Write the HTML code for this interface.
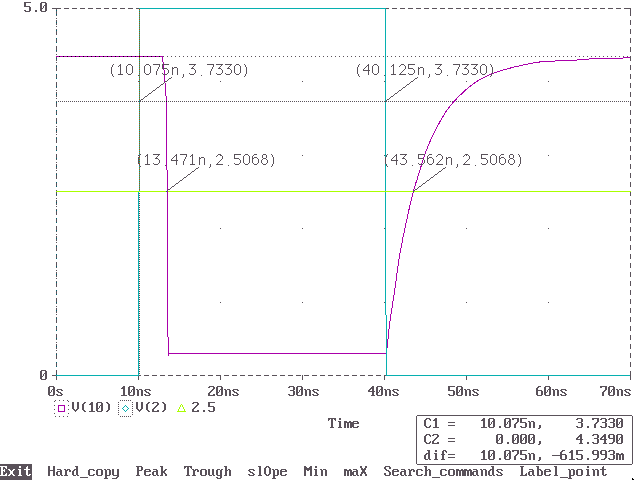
<!DOCTYPE html>
<html lang="en"><head><meta charset="utf-8"><title>Probe - V(10), V(2), 2.5 vs Time</title>
<style>html,body{margin:0;padding:0;background:#fff;width:640px;height:480px;overflow:hidden;font-family:"Liberation Mono",monospace}svg{display:block;position:absolute;left:0;top:0}</style>
</head><body>
<svg width="640" height="480" viewBox="0 0 640 480">
<defs>
<path id="c40" d="M4 2h2v1h-2zM3 3h2v1h-2zM2 4h2v1h-2zM2 5h2v1h-2zM2 6h2v1h-2zM2 7h2v1h-2zM2 8h2v1h-2zM2 9h2v1h-2zM3 10h2v1h-2zM4 11h2v1h-2z"/>
<path id="c41" d="M2 2h2v1h-2zM3 3h2v1h-2zM4 4h2v1h-2zM4 5h2v1h-2zM4 6h2v1h-2zM4 7h2v1h-2zM4 8h2v1h-2zM4 9h2v1h-2zM3 10h2v1h-2zM2 11h2v1h-2z"/>
<path id="c44" d="M3 9h2v1h-2zM3 10h2v1h-2zM3 11h2v1h-2zM2 12h2v1h-2z"/>
<path id="c45" d="M0 7h8v1h-8z"/>
<path id="c46" d="M3 10h2v1h-2zM3 11h2v1h-2z"/>
<path id="c48" d="M1 2h5v1h-5zM0 3h2v1h-2zM5 3h2v1h-2zM0 4h2v1h-2zM5 4h2v1h-2zM0 5h2v1h-2zM4 5h3v1h-3zM0 6h2v1h-2zM3 6h1v1h-1zM5 6h2v1h-2zM0 7h2v1h-2zM3 7h1v1h-1zM5 7h2v1h-2zM0 8h3v1h-3zM5 8h2v1h-2zM0 9h2v1h-2zM5 9h2v1h-2zM0 10h2v1h-2zM5 10h2v1h-2zM1 11h5v1h-5z"/>
<path id="c49" d="M3 2h2v1h-2zM2 3h3v1h-3zM1 4h4v1h-4zM3 5h2v1h-2zM3 6h2v1h-2zM3 7h2v1h-2zM3 8h2v1h-2zM3 9h2v1h-2zM3 10h2v1h-2zM1 11h6v1h-6z"/>
<path id="c50" d="M1 2h5v1h-5zM0 3h2v1h-2zM5 3h2v1h-2zM5 4h2v1h-2zM4 5h2v1h-2zM3 6h2v1h-2zM2 7h2v1h-2zM1 8h2v1h-2zM0 9h2v1h-2zM0 10h2v1h-2zM5 10h2v1h-2zM0 11h7v1h-7z"/>
<path id="c51" d="M1 2h5v1h-5zM0 3h2v1h-2zM5 3h2v1h-2zM5 4h2v1h-2zM5 5h2v1h-2zM2 6h4v1h-4zM5 7h2v1h-2zM5 8h2v1h-2zM5 9h2v1h-2zM0 10h2v1h-2zM5 10h2v1h-2zM1 11h5v1h-5z"/>
<path id="c52" d="M4 2h2v1h-2zM3 3h3v1h-3zM2 4h4v1h-4zM1 5h2v1h-2zM4 5h2v1h-2zM0 6h2v1h-2zM4 6h2v1h-2zM0 7h7v1h-7zM4 8h2v1h-2zM4 9h2v1h-2zM4 10h2v1h-2zM3 11h4v1h-4z"/>
<path id="c53" d="M0 2h7v1h-7zM0 3h2v1h-2zM0 4h2v1h-2zM0 5h2v1h-2zM0 6h6v1h-6zM5 7h2v1h-2zM5 8h2v1h-2zM5 9h2v1h-2zM0 10h2v1h-2zM5 10h2v1h-2zM1 11h5v1h-5z"/>
<path id="c54" d="M2 2h3v1h-3zM1 3h2v1h-2zM0 4h2v1h-2zM0 5h2v1h-2zM0 6h6v1h-6zM0 7h2v1h-2zM5 7h2v1h-2zM0 8h2v1h-2zM5 8h2v1h-2zM0 9h2v1h-2zM5 9h2v1h-2zM0 10h2v1h-2zM5 10h2v1h-2zM1 11h5v1h-5z"/>
<path id="c55" d="M0 2h7v1h-7zM0 3h2v1h-2zM5 3h2v1h-2zM5 4h2v1h-2zM5 5h2v1h-2zM4 6h2v1h-2zM3 7h2v1h-2zM2 8h2v1h-2zM2 9h2v1h-2zM2 10h2v1h-2zM2 11h2v1h-2z"/>
<path id="c57" d="M1 2h5v1h-5zM0 3h2v1h-2zM5 3h2v1h-2zM0 4h2v1h-2zM5 4h2v1h-2zM0 5h2v1h-2zM5 5h2v1h-2zM1 6h6v1h-6zM5 7h2v1h-2zM5 8h2v1h-2zM5 9h2v1h-2zM4 10h2v1h-2zM1 11h4v1h-4z"/>
<path id="c61" d="M0 6h7v1h-7zM0 9h7v1h-7z"/>
<path id="c67" d="M2 2h4v1h-4zM1 3h2v1h-2zM5 3h2v1h-2zM0 4h2v1h-2zM6 4h1v1h-1zM0 5h2v1h-2zM0 6h2v1h-2zM0 7h2v1h-2zM0 8h2v1h-2zM0 9h2v1h-2zM6 9h1v1h-1zM1 10h2v1h-2zM5 10h2v1h-2zM2 11h4v1h-4z"/>
<path id="c69" d="M0 2h7v1h-7zM1 3h2v1h-2zM5 3h2v1h-2zM1 4h2v1h-2zM6 4h1v1h-1zM1 5h2v1h-2zM4 5h1v1h-1zM1 6h4v1h-4zM1 7h2v1h-2zM4 7h1v1h-1zM1 8h2v1h-2zM1 9h2v1h-2zM6 9h1v1h-1zM1 10h2v1h-2zM5 10h2v1h-2zM0 11h7v1h-7z"/>
<path id="c72" d="M0 2h2v1h-2zM5 2h2v1h-2zM0 3h2v1h-2zM5 3h2v1h-2zM0 4h2v1h-2zM5 4h2v1h-2zM0 5h2v1h-2zM5 5h2v1h-2zM0 6h7v1h-7zM0 7h2v1h-2zM5 7h2v1h-2zM0 8h2v1h-2zM5 8h2v1h-2zM0 9h2v1h-2zM5 9h2v1h-2zM0 10h2v1h-2zM5 10h2v1h-2zM0 11h2v1h-2zM5 11h2v1h-2z"/>
<path id="c76" d="M0 2h4v1h-4zM1 3h2v1h-2zM1 4h2v1h-2zM1 5h2v1h-2zM1 6h2v1h-2zM1 7h2v1h-2zM1 8h2v1h-2zM1 9h2v1h-2zM6 9h1v1h-1zM1 10h2v1h-2zM5 10h2v1h-2zM0 11h7v1h-7z"/>
<path id="c77" d="M0 2h2v1h-2zM6 2h2v1h-2zM0 3h3v1h-3zM5 3h3v1h-3zM0 4h8v1h-8zM0 5h8v1h-8zM0 6h2v1h-2zM3 6h2v1h-2zM6 6h2v1h-2zM0 7h2v1h-2zM6 7h2v1h-2zM0 8h2v1h-2zM6 8h2v1h-2zM0 9h2v1h-2zM6 9h2v1h-2zM0 10h2v1h-2zM6 10h2v1h-2zM0 11h2v1h-2zM6 11h2v1h-2z"/>
<path id="c79" d="M2 2h3v1h-3zM1 3h2v1h-2zM4 3h2v1h-2zM0 4h2v1h-2zM5 4h2v1h-2zM0 5h2v1h-2zM5 5h2v1h-2zM0 6h2v1h-2zM5 6h2v1h-2zM0 7h2v1h-2zM5 7h2v1h-2zM0 8h2v1h-2zM5 8h2v1h-2zM0 9h2v1h-2zM5 9h2v1h-2zM1 10h2v1h-2zM4 10h2v1h-2zM2 11h3v1h-3z"/>
<path id="c80" d="M0 2h6v1h-6zM1 3h2v1h-2zM5 3h2v1h-2zM1 4h2v1h-2zM5 4h2v1h-2zM1 5h2v1h-2zM5 5h2v1h-2zM1 6h5v1h-5zM1 7h2v1h-2zM1 8h2v1h-2zM1 9h2v1h-2zM1 10h2v1h-2zM0 11h4v1h-4z"/>
<path id="c83" d="M1 2h5v1h-5zM0 3h2v1h-2zM5 3h2v1h-2zM0 4h2v1h-2zM5 4h2v1h-2zM1 5h2v1h-2zM2 6h3v1h-3zM4 7h2v1h-2zM5 8h2v1h-2zM0 9h2v1h-2zM5 9h2v1h-2zM0 10h2v1h-2zM5 10h2v1h-2zM1 11h5v1h-5z"/>
<path id="c84" d="M0 2h8v1h-8zM0 3h2v1h-2zM3 3h2v1h-2zM6 3h2v1h-2zM0 4h1v1h-1zM3 4h2v1h-2zM7 4h1v1h-1zM3 5h2v1h-2zM3 6h2v1h-2zM3 7h2v1h-2zM3 8h2v1h-2zM3 9h2v1h-2zM3 10h2v1h-2zM2 11h4v1h-4z"/>
<path id="c86" d="M0 2h2v1h-2zM5 2h2v1h-2zM0 3h2v1h-2zM5 3h2v1h-2zM0 4h2v1h-2zM5 4h2v1h-2zM0 5h2v1h-2zM5 5h2v1h-2zM0 6h2v1h-2zM5 6h2v1h-2zM0 7h2v1h-2zM5 7h2v1h-2zM0 8h2v1h-2zM5 8h2v1h-2zM1 9h2v1h-2zM4 9h2v1h-2zM2 10h3v1h-3zM3 11h1v1h-1z"/>
<path id="c88" d="M0 2h2v1h-2zM5 2h2v1h-2zM0 3h2v1h-2zM5 3h2v1h-2zM1 4h2v1h-2zM4 4h2v1h-2zM1 5h5v1h-5zM2 6h3v1h-3zM2 7h3v1h-3zM1 8h5v1h-5zM1 9h2v1h-2zM4 9h2v1h-2zM0 10h2v1h-2zM5 10h2v1h-2zM0 11h2v1h-2zM5 11h2v1h-2z"/>
<path id="c95" d="M0 13h8v1h-8z"/>
<path id="c97" d="M1 5h4v1h-4zM4 6h2v1h-2zM1 7h5v1h-5zM0 8h2v1h-2zM4 8h2v1h-2zM0 9h2v1h-2zM4 9h2v1h-2zM0 10h2v1h-2zM4 10h2v1h-2zM1 11h3v1h-3zM5 11h2v1h-2z"/>
<path id="c98" d="M0 2h3v1h-3zM1 3h2v1h-2zM1 4h2v1h-2zM1 5h4v1h-4zM1 6h2v1h-2zM4 6h2v1h-2zM1 7h2v1h-2zM5 7h2v1h-2zM1 8h2v1h-2zM5 8h2v1h-2zM1 9h2v1h-2zM5 9h2v1h-2zM1 10h2v1h-2zM5 10h2v1h-2zM1 11h5v1h-5z"/>
<path id="c99" d="M1 5h5v1h-5zM0 6h2v1h-2zM5 6h2v1h-2zM0 7h2v1h-2zM0 8h2v1h-2zM0 9h2v1h-2zM0 10h2v1h-2zM5 10h2v1h-2zM1 11h5v1h-5z"/>
<path id="c100" d="M3 2h3v1h-3zM4 3h2v1h-2zM4 4h2v1h-2zM2 5h4v1h-4zM1 6h2v1h-2zM4 6h2v1h-2zM0 7h2v1h-2zM4 7h2v1h-2zM0 8h2v1h-2zM4 8h2v1h-2zM0 9h2v1h-2zM4 9h2v1h-2zM0 10h2v1h-2zM4 10h2v1h-2zM1 11h3v1h-3zM5 11h2v1h-2z"/>
<path id="c101" d="M1 5h5v1h-5zM0 6h2v1h-2zM5 6h2v1h-2zM0 7h7v1h-7zM0 8h2v1h-2zM0 9h2v1h-2zM0 10h2v1h-2zM5 10h2v1h-2zM1 11h5v1h-5z"/>
<path id="c102" d="M3 2h3v1h-3zM2 3h2v1h-2zM5 3h2v1h-2zM2 4h2v1h-2zM6 4h1v1h-1zM2 5h2v1h-2zM1 6h4v1h-4zM2 7h2v1h-2zM2 8h2v1h-2zM2 9h2v1h-2zM2 10h2v1h-2zM1 11h4v1h-4z"/>
<path id="c103" d="M1 5h3v1h-3zM5 5h2v1h-2zM0 6h2v1h-2zM4 6h2v1h-2zM0 7h2v1h-2zM4 7h2v1h-2zM0 8h2v1h-2zM4 8h2v1h-2zM0 9h2v1h-2zM4 9h2v1h-2zM0 10h2v1h-2zM4 10h2v1h-2zM1 11h5v1h-5zM4 12h2v1h-2zM0 13h2v1h-2zM4 13h2v1h-2zM1 14h4v1h-4z"/>
<path id="c104" d="M0 2h3v1h-3zM1 3h2v1h-2zM1 4h2v1h-2zM1 5h2v1h-2zM4 5h2v1h-2zM1 6h3v1h-3zM5 6h2v1h-2zM1 7h2v1h-2zM5 7h2v1h-2zM1 8h2v1h-2zM5 8h2v1h-2zM1 9h2v1h-2zM5 9h2v1h-2zM1 10h2v1h-2zM5 10h2v1h-2zM0 11h3v1h-3zM5 11h2v1h-2z"/>
<path id="c105" d="M3 2h2v1h-2zM3 3h2v1h-2zM2 5h3v1h-3zM3 6h2v1h-2zM3 7h2v1h-2zM3 8h2v1h-2zM3 9h2v1h-2zM3 10h2v1h-2zM2 11h4v1h-4z"/>
<path id="c107" d="M0 2h3v1h-3zM1 3h2v1h-2zM1 4h2v1h-2zM1 5h2v1h-2zM5 5h2v1h-2zM1 6h2v1h-2zM4 6h2v1h-2zM1 7h4v1h-4zM1 8h4v1h-4zM1 9h2v1h-2zM4 9h2v1h-2zM1 10h2v1h-2zM5 10h2v1h-2zM0 11h3v1h-3zM5 11h2v1h-2z"/>
<path id="c108" d="M2 2h3v1h-3zM3 3h2v1h-2zM3 4h2v1h-2zM3 5h2v1h-2zM3 6h2v1h-2zM3 7h2v1h-2zM3 8h2v1h-2zM3 9h2v1h-2zM3 10h2v1h-2zM2 11h4v1h-4z"/>
<path id="c109" d="M0 5h3v1h-3zM5 5h2v1h-2zM0 6h8v1h-8zM0 7h2v1h-2zM3 7h2v1h-2zM6 7h2v1h-2zM0 8h2v1h-2zM3 8h2v1h-2zM6 8h2v1h-2zM0 9h2v1h-2zM3 9h2v1h-2zM6 9h2v1h-2zM0 10h2v1h-2zM3 10h2v1h-2zM6 10h2v1h-2zM0 11h2v1h-2zM3 11h2v1h-2zM6 11h2v1h-2z"/>
<path id="c110" d="M0 5h2v1h-2zM3 5h3v1h-3zM1 6h2v1h-2zM5 6h2v1h-2zM1 7h2v1h-2zM5 7h2v1h-2zM1 8h2v1h-2zM5 8h2v1h-2zM1 9h2v1h-2zM5 9h2v1h-2zM1 10h2v1h-2zM5 10h2v1h-2zM1 11h2v1h-2zM5 11h2v1h-2z"/>
<path id="c111" d="M1 5h5v1h-5zM0 6h2v1h-2zM5 6h2v1h-2zM0 7h2v1h-2zM5 7h2v1h-2zM0 8h2v1h-2zM5 8h2v1h-2zM0 9h2v1h-2zM5 9h2v1h-2zM0 10h2v1h-2zM5 10h2v1h-2zM1 11h5v1h-5z"/>
<path id="c112" d="M0 5h2v1h-2zM3 5h3v1h-3zM1 6h2v1h-2zM5 6h2v1h-2zM1 7h2v1h-2zM5 7h2v1h-2zM1 8h2v1h-2zM5 8h2v1h-2zM1 9h2v1h-2zM5 9h2v1h-2zM1 10h2v1h-2zM5 10h2v1h-2zM1 11h5v1h-5zM1 12h2v1h-2zM1 13h2v1h-2zM0 14h4v1h-4z"/>
<path id="c114" d="M0 5h2v1h-2zM3 5h3v1h-3zM1 6h3v1h-3zM5 6h2v1h-2zM1 7h2v1h-2zM5 7h2v1h-2zM1 8h2v1h-2zM1 9h2v1h-2zM1 10h2v1h-2zM0 11h4v1h-4z"/>
<path id="c115" d="M1 5h5v1h-5zM0 6h2v1h-2zM5 6h2v1h-2zM1 7h2v1h-2zM2 8h3v1h-3zM4 9h2v1h-2zM0 10h2v1h-2zM5 10h2v1h-2zM1 11h5v1h-5z"/>
<path id="c116" d="M3 2h1v1h-1zM2 3h2v1h-2zM2 4h2v1h-2zM0 5h6v1h-6zM2 6h2v1h-2zM2 7h2v1h-2zM2 8h2v1h-2zM2 9h2v1h-2zM2 10h2v1h-2zM5 10h2v1h-2zM3 11h3v1h-3z"/>
<path id="c117" d="M0 5h2v1h-2zM4 5h2v1h-2zM0 6h2v1h-2zM4 6h2v1h-2zM0 7h2v1h-2zM4 7h2v1h-2zM0 8h2v1h-2zM4 8h2v1h-2zM0 9h2v1h-2zM4 9h2v1h-2zM0 10h2v1h-2zM4 10h2v1h-2zM1 11h3v1h-3zM5 11h2v1h-2z"/>
<path id="c120" d="M0 5h2v1h-2zM5 5h2v1h-2zM1 6h2v1h-2zM4 6h2v1h-2zM2 7h3v1h-3zM2 8h3v1h-3zM2 9h3v1h-3zM1 10h2v1h-2zM4 10h2v1h-2zM0 11h2v1h-2zM5 11h2v1h-2z"/>
<path id="c121" d="M0 5h2v1h-2zM5 5h2v1h-2zM0 6h2v1h-2zM5 6h2v1h-2zM0 7h2v1h-2zM5 7h2v1h-2zM0 8h2v1h-2zM5 8h2v1h-2zM0 9h2v1h-2zM5 9h2v1h-2zM0 10h2v1h-2zM5 10h2v1h-2zM1 11h6v1h-6zM5 12h2v1h-2zM4 13h2v1h-2zM0 14h5v1h-5z"/>
</defs>
<rect width="640" height="480" fill="#fff"/>
<g shape-rendering="crispEdges">
<rect x="52" y="8" width="4" height="1" fill="#5A525A"/>
<rect x="56" y="8" width="5" height="1" fill="#5A525A"/>
<rect x="64" y="8" width="5" height="1" fill="#5A525A"/>
<rect x="72" y="8" width="5" height="1" fill="#5A525A"/>
<rect x="80" y="8" width="5" height="1" fill="#5A525A"/>
<rect x="88" y="8" width="5" height="1" fill="#5A525A"/>
<rect x="96" y="8" width="5" height="1" fill="#5A525A"/>
<rect x="104" y="8" width="5" height="1" fill="#5A525A"/>
<rect x="112" y="8" width="5" height="1" fill="#5A525A"/>
<rect x="120" y="8" width="5" height="1" fill="#5A525A"/>
<rect x="128" y="8" width="5" height="1" fill="#5A525A"/>
<rect x="136" y="8" width="5" height="1" fill="#5A525A"/>
<rect x="144" y="8" width="5" height="1" fill="#5A525A"/>
<rect x="152" y="8" width="5" height="1" fill="#5A525A"/>
<rect x="160" y="8" width="5" height="1" fill="#5A525A"/>
<rect x="168" y="8" width="5" height="1" fill="#5A525A"/>
<rect x="176" y="8" width="5" height="1" fill="#5A525A"/>
<rect x="184" y="8" width="5" height="1" fill="#5A525A"/>
<rect x="192" y="8" width="5" height="1" fill="#5A525A"/>
<rect x="200" y="8" width="5" height="1" fill="#5A525A"/>
<rect x="208" y="8" width="5" height="1" fill="#5A525A"/>
<rect x="216" y="8" width="5" height="1" fill="#5A525A"/>
<rect x="224" y="8" width="5" height="1" fill="#5A525A"/>
<rect x="232" y="8" width="5" height="1" fill="#5A525A"/>
<rect x="240" y="8" width="5" height="1" fill="#5A525A"/>
<rect x="248" y="8" width="5" height="1" fill="#5A525A"/>
<rect x="256" y="8" width="5" height="1" fill="#5A525A"/>
<rect x="264" y="8" width="5" height="1" fill="#5A525A"/>
<rect x="272" y="8" width="5" height="1" fill="#5A525A"/>
<rect x="280" y="8" width="5" height="1" fill="#5A525A"/>
<rect x="288" y="8" width="5" height="1" fill="#5A525A"/>
<rect x="296" y="8" width="5" height="1" fill="#5A525A"/>
<rect x="304" y="8" width="5" height="1" fill="#5A525A"/>
<rect x="312" y="8" width="5" height="1" fill="#5A525A"/>
<rect x="320" y="8" width="5" height="1" fill="#5A525A"/>
<rect x="328" y="8" width="5" height="1" fill="#5A525A"/>
<rect x="336" y="8" width="5" height="1" fill="#5A525A"/>
<rect x="344" y="8" width="5" height="1" fill="#5A525A"/>
<rect x="352" y="8" width="5" height="1" fill="#5A525A"/>
<rect x="360" y="8" width="5" height="1" fill="#5A525A"/>
<rect x="368" y="8" width="5" height="1" fill="#5A525A"/>
<rect x="376" y="8" width="5" height="1" fill="#5A525A"/>
<rect x="384" y="8" width="5" height="1" fill="#5A525A"/>
<rect x="392" y="8" width="5" height="1" fill="#5A525A"/>
<rect x="400" y="8" width="5" height="1" fill="#5A525A"/>
<rect x="408" y="8" width="5" height="1" fill="#5A525A"/>
<rect x="416" y="8" width="5" height="1" fill="#5A525A"/>
<rect x="424" y="8" width="5" height="1" fill="#5A525A"/>
<rect x="432" y="8" width="5" height="1" fill="#5A525A"/>
<rect x="440" y="8" width="5" height="1" fill="#5A525A"/>
<rect x="448" y="8" width="5" height="1" fill="#5A525A"/>
<rect x="456" y="8" width="5" height="1" fill="#5A525A"/>
<rect x="464" y="8" width="5" height="1" fill="#5A525A"/>
<rect x="472" y="8" width="5" height="1" fill="#5A525A"/>
<rect x="480" y="8" width="5" height="1" fill="#5A525A"/>
<rect x="488" y="8" width="5" height="1" fill="#5A525A"/>
<rect x="496" y="8" width="5" height="1" fill="#5A525A"/>
<rect x="504" y="8" width="5" height="1" fill="#5A525A"/>
<rect x="512" y="8" width="5" height="1" fill="#5A525A"/>
<rect x="520" y="8" width="5" height="1" fill="#5A525A"/>
<rect x="528" y="8" width="5" height="1" fill="#5A525A"/>
<rect x="536" y="8" width="5" height="1" fill="#5A525A"/>
<rect x="544" y="8" width="5" height="1" fill="#5A525A"/>
<rect x="552" y="8" width="5" height="1" fill="#5A525A"/>
<rect x="560" y="8" width="5" height="1" fill="#5A525A"/>
<rect x="568" y="8" width="5" height="1" fill="#5A525A"/>
<rect x="576" y="8" width="5" height="1" fill="#5A525A"/>
<rect x="584" y="8" width="5" height="1" fill="#5A525A"/>
<rect x="592" y="8" width="5" height="1" fill="#5A525A"/>
<rect x="600" y="8" width="5" height="1" fill="#5A525A"/>
<rect x="608" y="8" width="5" height="1" fill="#5A525A"/>
<rect x="616" y="8" width="5" height="1" fill="#5A525A"/>
<rect x="624" y="8" width="5" height="1" fill="#5A525A"/>
<rect x="52" y="375" width="4" height="1" fill="#5A525A"/>
<rect x="56" y="375" width="5" height="1" fill="#5A525A"/>
<rect x="64" y="375" width="5" height="1" fill="#5A525A"/>
<rect x="72" y="375" width="5" height="1" fill="#5A525A"/>
<rect x="80" y="375" width="5" height="1" fill="#5A525A"/>
<rect x="88" y="375" width="5" height="1" fill="#5A525A"/>
<rect x="96" y="375" width="5" height="1" fill="#5A525A"/>
<rect x="104" y="375" width="5" height="1" fill="#5A525A"/>
<rect x="112" y="375" width="5" height="1" fill="#5A525A"/>
<rect x="120" y="375" width="5" height="1" fill="#5A525A"/>
<rect x="128" y="375" width="5" height="1" fill="#5A525A"/>
<rect x="136" y="375" width="5" height="1" fill="#5A525A"/>
<rect x="144" y="375" width="5" height="1" fill="#5A525A"/>
<rect x="152" y="375" width="5" height="1" fill="#5A525A"/>
<rect x="160" y="375" width="5" height="1" fill="#5A525A"/>
<rect x="168" y="375" width="5" height="1" fill="#5A525A"/>
<rect x="176" y="375" width="5" height="1" fill="#5A525A"/>
<rect x="184" y="375" width="5" height="1" fill="#5A525A"/>
<rect x="192" y="375" width="5" height="1" fill="#5A525A"/>
<rect x="200" y="375" width="5" height="1" fill="#5A525A"/>
<rect x="208" y="375" width="5" height="1" fill="#5A525A"/>
<rect x="216" y="375" width="5" height="1" fill="#5A525A"/>
<rect x="224" y="375" width="5" height="1" fill="#5A525A"/>
<rect x="232" y="375" width="5" height="1" fill="#5A525A"/>
<rect x="240" y="375" width="5" height="1" fill="#5A525A"/>
<rect x="248" y="375" width="5" height="1" fill="#5A525A"/>
<rect x="256" y="375" width="5" height="1" fill="#5A525A"/>
<rect x="264" y="375" width="5" height="1" fill="#5A525A"/>
<rect x="272" y="375" width="5" height="1" fill="#5A525A"/>
<rect x="280" y="375" width="5" height="1" fill="#5A525A"/>
<rect x="288" y="375" width="5" height="1" fill="#5A525A"/>
<rect x="296" y="375" width="5" height="1" fill="#5A525A"/>
<rect x="304" y="375" width="5" height="1" fill="#5A525A"/>
<rect x="312" y="375" width="5" height="1" fill="#5A525A"/>
<rect x="320" y="375" width="5" height="1" fill="#5A525A"/>
<rect x="328" y="375" width="5" height="1" fill="#5A525A"/>
<rect x="336" y="375" width="5" height="1" fill="#5A525A"/>
<rect x="344" y="375" width="5" height="1" fill="#5A525A"/>
<rect x="352" y="375" width="5" height="1" fill="#5A525A"/>
<rect x="360" y="375" width="5" height="1" fill="#5A525A"/>
<rect x="368" y="375" width="5" height="1" fill="#5A525A"/>
<rect x="376" y="375" width="5" height="1" fill="#5A525A"/>
<rect x="384" y="375" width="5" height="1" fill="#5A525A"/>
<rect x="392" y="375" width="5" height="1" fill="#5A525A"/>
<rect x="400" y="375" width="5" height="1" fill="#5A525A"/>
<rect x="408" y="375" width="5" height="1" fill="#5A525A"/>
<rect x="416" y="375" width="5" height="1" fill="#5A525A"/>
<rect x="424" y="375" width="5" height="1" fill="#5A525A"/>
<rect x="432" y="375" width="5" height="1" fill="#5A525A"/>
<rect x="440" y="375" width="5" height="1" fill="#5A525A"/>
<rect x="448" y="375" width="5" height="1" fill="#5A525A"/>
<rect x="456" y="375" width="5" height="1" fill="#5A525A"/>
<rect x="464" y="375" width="5" height="1" fill="#5A525A"/>
<rect x="472" y="375" width="5" height="1" fill="#5A525A"/>
<rect x="480" y="375" width="5" height="1" fill="#5A525A"/>
<rect x="488" y="375" width="5" height="1" fill="#5A525A"/>
<rect x="496" y="375" width="5" height="1" fill="#5A525A"/>
<rect x="504" y="375" width="5" height="1" fill="#5A525A"/>
<rect x="512" y="375" width="5" height="1" fill="#5A525A"/>
<rect x="520" y="375" width="5" height="1" fill="#5A525A"/>
<rect x="528" y="375" width="5" height="1" fill="#5A525A"/>
<rect x="536" y="375" width="5" height="1" fill="#5A525A"/>
<rect x="544" y="375" width="5" height="1" fill="#5A525A"/>
<rect x="552" y="375" width="5" height="1" fill="#5A525A"/>
<rect x="560" y="375" width="5" height="1" fill="#5A525A"/>
<rect x="568" y="375" width="5" height="1" fill="#5A525A"/>
<rect x="576" y="375" width="5" height="1" fill="#5A525A"/>
<rect x="584" y="375" width="5" height="1" fill="#5A525A"/>
<rect x="592" y="375" width="5" height="1" fill="#5A525A"/>
<rect x="600" y="375" width="5" height="1" fill="#5A525A"/>
<rect x="608" y="375" width="5" height="1" fill="#5A525A"/>
<rect x="616" y="375" width="5" height="1" fill="#5A525A"/>
<rect x="624" y="375" width="5" height="1" fill="#5A525A"/>
<rect x="629" y="8" width="1" height="1" fill="#5A525A"/>
<rect x="56" y="375" width="1" height="5" fill="#5A525A"/>
<rect x="138" y="375" width="1" height="5" fill="#5A525A"/>
<rect x="220" y="375" width="1" height="5" fill="#5A525A"/>
<rect x="302" y="375" width="1" height="5" fill="#5A525A"/>
<rect x="384" y="375" width="1" height="5" fill="#5A525A"/>
<rect x="466" y="375" width="1" height="5" fill="#5A525A"/>
<rect x="548" y="375" width="1" height="5" fill="#5A525A"/>
<rect x="630" y="375" width="1" height="5" fill="#5A525A"/>
<rect x="630" y="8" width="1" height="8" fill="#5A525A"/>
<rect x="630" y="20" width="1" height="5" fill="#5A525A"/>
<rect x="630" y="29" width="1" height="5" fill="#5A525A"/>
<rect x="630" y="38" width="1" height="5" fill="#5A525A"/>
<rect x="630" y="47" width="1" height="5" fill="#5A525A"/>
<rect x="630" y="56" width="1" height="5" fill="#5A525A"/>
<rect x="630" y="65" width="1" height="5" fill="#5A525A"/>
<rect x="630" y="74" width="1" height="5" fill="#5A525A"/>
<rect x="630" y="83" width="1" height="5" fill="#5A525A"/>
<rect x="630" y="92" width="1" height="5" fill="#5A525A"/>
<rect x="630" y="101" width="1" height="5" fill="#5A525A"/>
<rect x="630" y="110" width="1" height="5" fill="#5A525A"/>
<rect x="630" y="119" width="1" height="5" fill="#5A525A"/>
<rect x="630" y="128" width="1" height="5" fill="#5A525A"/>
<rect x="630" y="137" width="1" height="5" fill="#5A525A"/>
<rect x="630" y="146" width="1" height="5" fill="#5A525A"/>
<rect x="630" y="155" width="1" height="5" fill="#5A525A"/>
<rect x="630" y="164" width="1" height="5" fill="#5A525A"/>
<rect x="630" y="173" width="1" height="5" fill="#5A525A"/>
<rect x="630" y="182" width="1" height="5" fill="#5A525A"/>
<rect x="630" y="191" width="1" height="5" fill="#5A525A"/>
<rect x="630" y="200" width="1" height="5" fill="#5A525A"/>
<rect x="630" y="209" width="1" height="5" fill="#5A525A"/>
<rect x="630" y="218" width="1" height="5" fill="#5A525A"/>
<rect x="630" y="227" width="1" height="5" fill="#5A525A"/>
<rect x="630" y="236" width="1" height="5" fill="#5A525A"/>
<rect x="630" y="245" width="1" height="5" fill="#5A525A"/>
<rect x="630" y="254" width="1" height="5" fill="#5A525A"/>
<rect x="630" y="263" width="1" height="5" fill="#5A525A"/>
<rect x="630" y="272" width="1" height="5" fill="#5A525A"/>
<rect x="630" y="281" width="1" height="5" fill="#5A525A"/>
<rect x="630" y="290" width="1" height="5" fill="#5A525A"/>
<rect x="630" y="299" width="1" height="5" fill="#5A525A"/>
<rect x="630" y="308" width="1" height="5" fill="#5A525A"/>
<rect x="630" y="317" width="1" height="5" fill="#5A525A"/>
<rect x="630" y="326" width="1" height="5" fill="#5A525A"/>
<rect x="630" y="335" width="1" height="5" fill="#5A525A"/>
<rect x="630" y="344" width="1" height="5" fill="#5A525A"/>
<rect x="630" y="353" width="1" height="5" fill="#5A525A"/>
<rect x="630" y="362" width="1" height="5" fill="#5A525A"/>
<rect x="630" y="371" width="1" height="5" fill="#5A525A"/>
<rect x="56" y="8" width="1" height="1" fill="#5A525A"/>
<rect x="56" y="9" width="1" height="1" fill="#5A525A"/>
<rect x="56" y="10" width="1" height="1" fill="#00626E"/>
<rect x="56" y="11" width="1" height="1" fill="#5A525A"/>
<rect x="56" y="12" width="1" height="1" fill="#5A525A"/>
<rect x="56" y="13" width="1" height="1" fill="#5A525A"/>
<rect x="56" y="14" width="1" height="1" fill="#00626E"/>
<rect x="56" y="15" width="1" height="1" fill="#5A525A"/>
<rect x="56" y="18" width="1" height="1" fill="#5A525A"/>
<rect x="56" y="20" width="1" height="1" fill="#5A525A"/>
<rect x="56" y="21" width="1" height="1" fill="#5A525A"/>
<rect x="56" y="22" width="1" height="1" fill="#00626E"/>
<rect x="56" y="23" width="1" height="1" fill="#5A525A"/>
<rect x="56" y="24" width="1" height="1" fill="#5A525A"/>
<rect x="56" y="26" width="1" height="1" fill="#5A525A"/>
<rect x="56" y="29" width="1" height="1" fill="#5A525A"/>
<rect x="56" y="30" width="1" height="1" fill="#00626E"/>
<rect x="56" y="31" width="1" height="1" fill="#5A525A"/>
<rect x="56" y="32" width="1" height="1" fill="#5A525A"/>
<rect x="56" y="33" width="1" height="1" fill="#5A525A"/>
<rect x="56" y="34" width="1" height="1" fill="#5A525A"/>
<rect x="56" y="38" width="1" height="1" fill="#00626E"/>
<rect x="56" y="39" width="1" height="1" fill="#5A525A"/>
<rect x="56" y="40" width="1" height="1" fill="#5A525A"/>
<rect x="56" y="41" width="1" height="1" fill="#5A525A"/>
<rect x="56" y="42" width="1" height="1" fill="#00626E"/>
<rect x="56" y="46" width="1" height="1" fill="#5A525A"/>
<rect x="56" y="47" width="1" height="1" fill="#5A525A"/>
<rect x="56" y="48" width="1" height="1" fill="#5A525A"/>
<rect x="56" y="49" width="1" height="1" fill="#5A525A"/>
<rect x="56" y="50" width="1" height="1" fill="#00626E"/>
<rect x="56" y="51" width="1" height="1" fill="#5A525A"/>
<rect x="56" y="54" width="1" height="1" fill="#5A525A"/>
<rect x="56" y="56" width="1" height="1" fill="#5A525A"/>
<rect x="56" y="57" width="1" height="1" fill="#5A525A"/>
<rect x="56" y="58" width="1" height="1" fill="#00626E"/>
<rect x="56" y="59" width="1" height="1" fill="#5A525A"/>
<rect x="56" y="60" width="1" height="1" fill="#5A525A"/>
<rect x="56" y="62" width="1" height="1" fill="#5A525A"/>
<rect x="56" y="65" width="1" height="1" fill="#5A525A"/>
<rect x="56" y="66" width="1" height="1" fill="#00626E"/>
<rect x="56" y="67" width="1" height="1" fill="#5A525A"/>
<rect x="56" y="68" width="1" height="1" fill="#5A525A"/>
<rect x="56" y="69" width="1" height="1" fill="#5A525A"/>
<rect x="56" y="70" width="1" height="1" fill="#5A525A"/>
<rect x="56" y="74" width="1" height="1" fill="#00626E"/>
<rect x="56" y="75" width="1" height="1" fill="#5A525A"/>
<rect x="56" y="76" width="1" height="1" fill="#5A525A"/>
<rect x="56" y="77" width="1" height="1" fill="#5A525A"/>
<rect x="56" y="78" width="1" height="1" fill="#00626E"/>
<rect x="56" y="82" width="1" height="1" fill="#5A525A"/>
<rect x="56" y="83" width="1" height="1" fill="#5A525A"/>
<rect x="56" y="84" width="1" height="1" fill="#5A525A"/>
<rect x="56" y="85" width="1" height="1" fill="#5A525A"/>
<rect x="56" y="86" width="1" height="1" fill="#00626E"/>
<rect x="56" y="87" width="1" height="1" fill="#5A525A"/>
<rect x="56" y="90" width="1" height="1" fill="#5A525A"/>
<rect x="56" y="92" width="1" height="1" fill="#5A525A"/>
<rect x="56" y="93" width="1" height="1" fill="#5A525A"/>
<rect x="56" y="94" width="1" height="1" fill="#00626E"/>
<rect x="56" y="95" width="1" height="1" fill="#5A525A"/>
<rect x="56" y="96" width="1" height="1" fill="#5A525A"/>
<rect x="56" y="98" width="1" height="1" fill="#5A525A"/>
<rect x="56" y="101" width="1" height="1" fill="#5A525A"/>
<rect x="56" y="102" width="1" height="1" fill="#00626E"/>
<rect x="56" y="103" width="1" height="1" fill="#5A525A"/>
<rect x="56" y="104" width="1" height="1" fill="#5A525A"/>
<rect x="56" y="105" width="1" height="1" fill="#5A525A"/>
<rect x="56" y="106" width="1" height="1" fill="#5A525A"/>
<rect x="56" y="110" width="1" height="1" fill="#00626E"/>
<rect x="56" y="111" width="1" height="1" fill="#5A525A"/>
<rect x="56" y="112" width="1" height="1" fill="#5A525A"/>
<rect x="56" y="113" width="1" height="1" fill="#5A525A"/>
<rect x="56" y="114" width="1" height="1" fill="#00626E"/>
<rect x="56" y="118" width="1" height="1" fill="#5A525A"/>
<rect x="56" y="119" width="1" height="1" fill="#5A525A"/>
<rect x="56" y="120" width="1" height="1" fill="#5A525A"/>
<rect x="56" y="121" width="1" height="1" fill="#5A525A"/>
<rect x="56" y="122" width="1" height="1" fill="#00626E"/>
<rect x="56" y="123" width="1" height="1" fill="#5A525A"/>
<rect x="56" y="126" width="1" height="1" fill="#5A525A"/>
<rect x="56" y="128" width="1" height="1" fill="#5A525A"/>
<rect x="56" y="129" width="1" height="1" fill="#5A525A"/>
<rect x="56" y="130" width="1" height="1" fill="#00626E"/>
<rect x="56" y="131" width="1" height="1" fill="#5A525A"/>
<rect x="56" y="132" width="1" height="1" fill="#5A525A"/>
<rect x="56" y="134" width="1" height="1" fill="#5A525A"/>
<rect x="56" y="137" width="1" height="1" fill="#5A525A"/>
<rect x="56" y="138" width="1" height="1" fill="#00626E"/>
<rect x="56" y="139" width="1" height="1" fill="#5A525A"/>
<rect x="56" y="140" width="1" height="1" fill="#5A525A"/>
<rect x="56" y="141" width="1" height="1" fill="#5A525A"/>
<rect x="56" y="142" width="1" height="1" fill="#5A525A"/>
<rect x="56" y="146" width="1" height="1" fill="#00626E"/>
<rect x="56" y="147" width="1" height="1" fill="#5A525A"/>
<rect x="56" y="148" width="1" height="1" fill="#5A525A"/>
<rect x="56" y="149" width="1" height="1" fill="#5A525A"/>
<rect x="56" y="150" width="1" height="1" fill="#00626E"/>
<rect x="56" y="154" width="1" height="1" fill="#5A525A"/>
<rect x="56" y="155" width="1" height="1" fill="#5A525A"/>
<rect x="56" y="156" width="1" height="1" fill="#5A525A"/>
<rect x="56" y="157" width="1" height="1" fill="#5A525A"/>
<rect x="56" y="158" width="1" height="1" fill="#00626E"/>
<rect x="56" y="159" width="1" height="1" fill="#5A525A"/>
<rect x="56" y="162" width="1" height="1" fill="#5A525A"/>
<rect x="56" y="164" width="1" height="1" fill="#5A525A"/>
<rect x="56" y="165" width="1" height="1" fill="#5A525A"/>
<rect x="56" y="166" width="1" height="1" fill="#00626E"/>
<rect x="56" y="167" width="1" height="1" fill="#5A525A"/>
<rect x="56" y="168" width="1" height="1" fill="#5A525A"/>
<rect x="56" y="170" width="1" height="1" fill="#5A525A"/>
<rect x="56" y="173" width="1" height="1" fill="#5A525A"/>
<rect x="56" y="174" width="1" height="1" fill="#00626E"/>
<rect x="56" y="175" width="1" height="1" fill="#5A525A"/>
<rect x="56" y="176" width="1" height="1" fill="#5A525A"/>
<rect x="56" y="177" width="1" height="1" fill="#5A525A"/>
<rect x="56" y="178" width="1" height="1" fill="#5A525A"/>
<rect x="56" y="182" width="1" height="1" fill="#00626E"/>
<rect x="56" y="183" width="1" height="1" fill="#5A525A"/>
<rect x="56" y="184" width="1" height="1" fill="#5A525A"/>
<rect x="56" y="185" width="1" height="1" fill="#5A525A"/>
<rect x="56" y="186" width="1" height="1" fill="#00626E"/>
<rect x="56" y="190" width="1" height="1" fill="#5A525A"/>
<rect x="56" y="191" width="1" height="1" fill="#5A525A"/>
<rect x="56" y="192" width="1" height="1" fill="#5A525A"/>
<rect x="56" y="193" width="1" height="1" fill="#5A525A"/>
<rect x="56" y="194" width="1" height="1" fill="#00626E"/>
<rect x="56" y="195" width="1" height="1" fill="#5A525A"/>
<rect x="56" y="198" width="1" height="1" fill="#5A525A"/>
<rect x="56" y="200" width="1" height="1" fill="#5A525A"/>
<rect x="56" y="201" width="1" height="1" fill="#5A525A"/>
<rect x="56" y="202" width="1" height="1" fill="#00626E"/>
<rect x="56" y="203" width="1" height="1" fill="#5A525A"/>
<rect x="56" y="204" width="1" height="1" fill="#5A525A"/>
<rect x="56" y="206" width="1" height="1" fill="#5A525A"/>
<rect x="56" y="209" width="1" height="1" fill="#5A525A"/>
<rect x="56" y="210" width="1" height="1" fill="#00626E"/>
<rect x="56" y="211" width="1" height="1" fill="#5A525A"/>
<rect x="56" y="212" width="1" height="1" fill="#5A525A"/>
<rect x="56" y="213" width="1" height="1" fill="#5A525A"/>
<rect x="56" y="214" width="1" height="1" fill="#5A525A"/>
<rect x="56" y="218" width="1" height="1" fill="#00626E"/>
<rect x="56" y="219" width="1" height="1" fill="#5A525A"/>
<rect x="56" y="220" width="1" height="1" fill="#5A525A"/>
<rect x="56" y="221" width="1" height="1" fill="#5A525A"/>
<rect x="56" y="222" width="1" height="1" fill="#00626E"/>
<rect x="56" y="226" width="1" height="1" fill="#5A525A"/>
<rect x="56" y="227" width="1" height="1" fill="#5A525A"/>
<rect x="56" y="228" width="1" height="1" fill="#5A525A"/>
<rect x="56" y="229" width="1" height="1" fill="#5A525A"/>
<rect x="56" y="230" width="1" height="1" fill="#00626E"/>
<rect x="56" y="231" width="1" height="1" fill="#5A525A"/>
<rect x="56" y="234" width="1" height="1" fill="#5A525A"/>
<rect x="56" y="236" width="1" height="1" fill="#5A525A"/>
<rect x="56" y="237" width="1" height="1" fill="#5A525A"/>
<rect x="56" y="238" width="1" height="1" fill="#00626E"/>
<rect x="56" y="239" width="1" height="1" fill="#5A525A"/>
<rect x="56" y="240" width="1" height="1" fill="#5A525A"/>
<rect x="56" y="242" width="1" height="1" fill="#5A525A"/>
<rect x="56" y="245" width="1" height="1" fill="#5A525A"/>
<rect x="56" y="246" width="1" height="1" fill="#00626E"/>
<rect x="56" y="247" width="1" height="1" fill="#5A525A"/>
<rect x="56" y="248" width="1" height="1" fill="#5A525A"/>
<rect x="56" y="249" width="1" height="1" fill="#5A525A"/>
<rect x="56" y="250" width="1" height="1" fill="#5A525A"/>
<rect x="56" y="254" width="1" height="1" fill="#00626E"/>
<rect x="56" y="255" width="1" height="1" fill="#5A525A"/>
<rect x="56" y="256" width="1" height="1" fill="#5A525A"/>
<rect x="56" y="257" width="1" height="1" fill="#5A525A"/>
<rect x="56" y="258" width="1" height="1" fill="#00626E"/>
<rect x="56" y="262" width="1" height="1" fill="#5A525A"/>
<rect x="56" y="263" width="1" height="1" fill="#5A525A"/>
<rect x="56" y="264" width="1" height="1" fill="#5A525A"/>
<rect x="56" y="265" width="1" height="1" fill="#5A525A"/>
<rect x="56" y="266" width="1" height="1" fill="#00626E"/>
<rect x="56" y="267" width="1" height="1" fill="#5A525A"/>
<rect x="56" y="270" width="1" height="1" fill="#5A525A"/>
<rect x="56" y="272" width="1" height="1" fill="#5A525A"/>
<rect x="56" y="273" width="1" height="1" fill="#5A525A"/>
<rect x="56" y="274" width="1" height="1" fill="#00626E"/>
<rect x="56" y="275" width="1" height="1" fill="#5A525A"/>
<rect x="56" y="276" width="1" height="1" fill="#5A525A"/>
<rect x="56" y="278" width="1" height="1" fill="#5A525A"/>
<rect x="56" y="281" width="1" height="1" fill="#5A525A"/>
<rect x="56" y="282" width="1" height="1" fill="#00626E"/>
<rect x="56" y="283" width="1" height="1" fill="#5A525A"/>
<rect x="56" y="284" width="1" height="1" fill="#5A525A"/>
<rect x="56" y="285" width="1" height="1" fill="#5A525A"/>
<rect x="56" y="286" width="1" height="1" fill="#5A525A"/>
<rect x="56" y="290" width="1" height="1" fill="#00626E"/>
<rect x="56" y="291" width="1" height="1" fill="#5A525A"/>
<rect x="56" y="292" width="1" height="1" fill="#5A525A"/>
<rect x="56" y="293" width="1" height="1" fill="#5A525A"/>
<rect x="56" y="294" width="1" height="1" fill="#00626E"/>
<rect x="56" y="298" width="1" height="1" fill="#5A525A"/>
<rect x="56" y="299" width="1" height="1" fill="#5A525A"/>
<rect x="56" y="300" width="1" height="1" fill="#5A525A"/>
<rect x="56" y="301" width="1" height="1" fill="#5A525A"/>
<rect x="56" y="302" width="1" height="1" fill="#00626E"/>
<rect x="56" y="303" width="1" height="1" fill="#5A525A"/>
<rect x="56" y="306" width="1" height="1" fill="#5A525A"/>
<rect x="56" y="308" width="1" height="1" fill="#5A525A"/>
<rect x="56" y="309" width="1" height="1" fill="#5A525A"/>
<rect x="56" y="310" width="1" height="1" fill="#00626E"/>
<rect x="56" y="311" width="1" height="1" fill="#5A525A"/>
<rect x="56" y="312" width="1" height="1" fill="#5A525A"/>
<rect x="56" y="314" width="1" height="1" fill="#5A525A"/>
<rect x="56" y="317" width="1" height="1" fill="#5A525A"/>
<rect x="56" y="318" width="1" height="1" fill="#00626E"/>
<rect x="56" y="319" width="1" height="1" fill="#5A525A"/>
<rect x="56" y="320" width="1" height="1" fill="#5A525A"/>
<rect x="56" y="321" width="1" height="1" fill="#5A525A"/>
<rect x="56" y="322" width="1" height="1" fill="#5A525A"/>
<rect x="56" y="326" width="1" height="1" fill="#00626E"/>
<rect x="56" y="327" width="1" height="1" fill="#5A525A"/>
<rect x="56" y="328" width="1" height="1" fill="#5A525A"/>
<rect x="56" y="329" width="1" height="1" fill="#5A525A"/>
<rect x="56" y="330" width="1" height="1" fill="#00626E"/>
<rect x="56" y="334" width="1" height="1" fill="#5A525A"/>
<rect x="56" y="335" width="1" height="1" fill="#5A525A"/>
<rect x="56" y="336" width="1" height="1" fill="#5A525A"/>
<rect x="56" y="337" width="1" height="1" fill="#5A525A"/>
<rect x="56" y="338" width="1" height="1" fill="#00626E"/>
<rect x="56" y="339" width="1" height="1" fill="#5A525A"/>
<rect x="56" y="342" width="1" height="1" fill="#5A525A"/>
<rect x="56" y="344" width="1" height="1" fill="#5A525A"/>
<rect x="56" y="345" width="1" height="1" fill="#5A525A"/>
<rect x="56" y="346" width="1" height="1" fill="#00626E"/>
<rect x="56" y="347" width="1" height="1" fill="#5A525A"/>
<rect x="56" y="348" width="1" height="1" fill="#5A525A"/>
<rect x="56" y="350" width="1" height="1" fill="#5A525A"/>
<rect x="56" y="353" width="1" height="1" fill="#5A525A"/>
<rect x="56" y="354" width="1" height="1" fill="#00626E"/>
<rect x="56" y="355" width="1" height="1" fill="#5A525A"/>
<rect x="56" y="356" width="1" height="1" fill="#5A525A"/>
<rect x="56" y="357" width="1" height="1" fill="#5A525A"/>
<rect x="56" y="358" width="1" height="1" fill="#5A525A"/>
<rect x="56" y="362" width="1" height="1" fill="#00626E"/>
<rect x="56" y="363" width="1" height="1" fill="#5A525A"/>
<rect x="56" y="364" width="1" height="1" fill="#5A525A"/>
<rect x="56" y="365" width="1" height="1" fill="#5A525A"/>
<rect x="56" y="366" width="1" height="1" fill="#00626E"/>
<rect x="56" y="370" width="1" height="1" fill="#5A525A"/>
<rect x="56" y="371" width="1" height="1" fill="#5A525A"/>
<rect x="56" y="372" width="1" height="1" fill="#5A525A"/>
<rect x="56" y="373" width="1" height="1" fill="#5A525A"/>
<rect x="56" y="374" width="1" height="1" fill="#00626E"/>
<rect x="56" y="375" width="1" height="1" fill="#5A525A"/>
<rect x="138" y="81" width="1" height="1" fill="#5A525A"/>
<rect x="138" y="155" width="1" height="1" fill="#5A525A"/>
<rect x="138" y="228" width="1" height="1" fill="#5A525A"/>
<rect x="138" y="302" width="1" height="1" fill="#5A525A"/>
<rect x="220" y="81" width="1" height="1" fill="#5A525A"/>
<rect x="220" y="155" width="1" height="1" fill="#5A525A"/>
<rect x="220" y="228" width="1" height="1" fill="#5A525A"/>
<rect x="220" y="302" width="1" height="1" fill="#5A525A"/>
<rect x="302" y="81" width="1" height="1" fill="#5A525A"/>
<rect x="302" y="155" width="1" height="1" fill="#5A525A"/>
<rect x="302" y="228" width="1" height="1" fill="#5A525A"/>
<rect x="302" y="302" width="1" height="1" fill="#5A525A"/>
<rect x="384" y="81" width="1" height="1" fill="#5A525A"/>
<rect x="384" y="155" width="1" height="1" fill="#5A525A"/>
<rect x="384" y="228" width="1" height="1" fill="#5A525A"/>
<rect x="384" y="302" width="1" height="1" fill="#5A525A"/>
<rect x="466" y="81" width="1" height="1" fill="#5A525A"/>
<rect x="466" y="155" width="1" height="1" fill="#5A525A"/>
<rect x="466" y="228" width="1" height="1" fill="#5A525A"/>
<rect x="466" y="302" width="1" height="1" fill="#5A525A"/>
<rect x="548" y="81" width="1" height="1" fill="#5A525A"/>
<rect x="548" y="155" width="1" height="1" fill="#5A525A"/>
<rect x="548" y="228" width="1" height="1" fill="#5A525A"/>
<rect x="548" y="302" width="1" height="1" fill="#5A525A"/>
<path d="M56 101.5H631" stroke="#5A525A" stroke-dasharray="1 1" fill="none"/>
<path d="M163 56.5H630" stroke="#5A525A" stroke-dasharray="1 3" fill="none"/>
<rect x="56" y="375" width="83" height="1" fill="#06B0B0"/>
<rect x="138" y="191" width="1" height="185" fill="#06B0B0"/>
<rect x="139" y="8" width="1" height="183" fill="#06B0B0"/>
<rect x="139" y="8" width="247" height="1" fill="#06B0B0"/>
<rect x="385" y="8" width="1" height="307" fill="#06B0B0"/>
<rect x="386" y="315" width="1" height="61" fill="#06B0B0"/>
<rect x="386" y="375" width="245" height="1" fill="#06B0B0"/>
<rect x="630" y="375" width="1" height="5" fill="#5A525A"/>
<rect x="384" y="376" width="1" height="4" fill="#5A525A"/>
<path d="M139.5 9V191" stroke="#AA5500" stroke-dasharray="1 1" fill="none"/>
<path d="M139.5 193V375" stroke="#5A525A" stroke-dasharray="1 1" fill="none"/>
<rect x="56" y="191" width="575" height="1" fill="#AAFF00"/>
<rect x="56" y="56" width="107" height="1" fill="#AA00AA"/>
<path d="M59 56.5H163" stroke="#000" stroke-dasharray="1 3" fill="none"/>
<rect x="162" y="56" width="1" height="6" fill="#AA00AA"/>
<rect x="163" y="62" width="1" height="8" fill="#AA00AA"/>
<rect x="164" y="70" width="1" height="13" fill="#AA00AA"/>
<rect x="165" y="83" width="1" height="13" fill="#AA00AA"/>
<rect x="166" y="96" width="1" height="74" fill="#AA00AA"/>
<rect x="167" y="170" width="1" height="167" fill="#AA00AA"/>
<rect x="168" y="337" width="1" height="19" fill="#AA00AA"/>
<rect x="168" y="353" width="218" height="1" fill="#AA00AA"/>
<rect x="166" y="191" width="1" height="1" fill="#226666"/>
<rect x="166" y="101" width="1" height="1" fill="#000"/>
</g>
<polyline shape-rendering="crispEdges" fill="none" stroke="#AA00AA" stroke-width="1" stroke-linejoin="round" points="386.5,353 387.5,343 388.5,334.5 389.5,324.5 390.5,317 391.5,311 392.5,305 393.5,298 394.5,291.5 395.5,284.5 396.5,277 397.5,269.5 398.5,262.5 399.5,255.5 400.5,250.5 401.5,245.5 402.5,240 403.5,235 404.5,230.5 405.5,225.5 406.5,221 407.5,216.5 408.5,212 409.5,207.2 410.5,203 411.5,199 412.5,195 413.5,191.3 414.5,187.5 415.5,184 416.5,181 417,179.81 420,169.72 423,160.24 426,151.41 429,143.79 432,136.94 435,130.83 438,125.19 441,119.89 444,114.76 447,110.02 450,106.18 453,102.67 456,99.34 459,96.22 462,93.38 465,90.55 468,87.95 471,85.56 474,83.36 477,81.33 480,79.53 483,77.91 486,76.43 489,75.08 492,73.84 495,72.69 498,71.64 501,70.67 504,69.75 507,68.9 510,68.13 513,67.33 516,66.59 519,65.91 522,65.23 525,64.58 528,63.97 531,63.4 534,62.87 537,62.38 540,61.93 543,61.57 546,61.4 549,61.25 552,61.13 555,61.02 558,60.85 561,60.7 564,60.57 567,60.44 570,60.3 573,60.18 576,60.06 579,59.9 582,59.62 585,59.35 588,59.09 591,58.92 594,58.81 597,58.71 600,58.61 603,58.52 606,58.44 609,58.35 612,58.28 615,58.2 618,58.13 621,58.07 624,57.99 627,57.88 630.5,57.75"/>
<g shape-rendering="crispEdges"><rect x="386" y="315" width="1" height="61" fill="#06B0B0"/></g>
<g shape-rendering="crispEdges">
<rect x="139" y="101" width="1" height="1" fill="#5A525A"/>
<rect x="140" y="100" width="1" height="1" fill="#5A525A"/>
<rect x="141" y="99" width="2" height="1" fill="#5A525A"/>
<rect x="143" y="98" width="1" height="1" fill="#5A525A"/>
<rect x="144" y="97" width="1" height="1" fill="#5A525A"/>
<rect x="145" y="96" width="2" height="1" fill="#5A525A"/>
<rect x="147" y="95" width="1" height="1" fill="#5A525A"/>
<rect x="148" y="94" width="1" height="1" fill="#5A525A"/>
<rect x="149" y="93" width="2" height="1" fill="#5A525A"/>
<rect x="151" y="92" width="1" height="1" fill="#5A525A"/>
<rect x="152" y="91" width="1" height="1" fill="#5A525A"/>
<rect x="153" y="90" width="2" height="1" fill="#5A525A"/>
<rect x="155" y="89" width="1" height="1" fill="#5A525A"/>
<rect x="156" y="88" width="1" height="1" fill="#5A525A"/>
<rect x="157" y="87" width="2" height="1" fill="#5A525A"/>
<rect x="159" y="86" width="1" height="1" fill="#5A525A"/>
<rect x="160" y="85" width="1" height="1" fill="#5A525A"/>
<rect x="161" y="84" width="2" height="1" fill="#5A525A"/>
<rect x="163" y="83" width="1" height="1" fill="#5A525A"/>
<rect x="164" y="82" width="1" height="1" fill="#5A525A"/>
<rect x="165" y="81" width="2" height="1" fill="#5A525A"/>
<rect x="167" y="80" width="1" height="1" fill="#5A525A"/>
<rect x="168" y="79" width="1" height="1" fill="#5A525A"/>
<rect x="169" y="78" width="2" height="1" fill="#5A525A"/>
<rect x="171" y="77" width="1" height="1" fill="#5A525A"/>
<rect x="385" y="101" width="1" height="1" fill="#5A525A"/>
<rect x="386" y="100" width="1" height="1" fill="#5A525A"/>
<rect x="387" y="99" width="2" height="1" fill="#5A525A"/>
<rect x="389" y="98" width="1" height="1" fill="#5A525A"/>
<rect x="390" y="97" width="1" height="1" fill="#5A525A"/>
<rect x="391" y="96" width="2" height="1" fill="#5A525A"/>
<rect x="393" y="95" width="1" height="1" fill="#5A525A"/>
<rect x="394" y="94" width="1" height="1" fill="#5A525A"/>
<rect x="395" y="93" width="2" height="1" fill="#5A525A"/>
<rect x="397" y="92" width="1" height="1" fill="#5A525A"/>
<rect x="398" y="91" width="1" height="1" fill="#5A525A"/>
<rect x="399" y="90" width="2" height="1" fill="#5A525A"/>
<rect x="401" y="89" width="1" height="1" fill="#5A525A"/>
<rect x="402" y="88" width="1" height="1" fill="#5A525A"/>
<rect x="403" y="87" width="2" height="1" fill="#5A525A"/>
<rect x="405" y="86" width="1" height="1" fill="#5A525A"/>
<rect x="406" y="85" width="1" height="1" fill="#5A525A"/>
<rect x="407" y="84" width="2" height="1" fill="#5A525A"/>
<rect x="409" y="83" width="1" height="1" fill="#5A525A"/>
<rect x="410" y="82" width="1" height="1" fill="#5A525A"/>
<rect x="411" y="81" width="2" height="1" fill="#5A525A"/>
<rect x="413" y="80" width="1" height="1" fill="#5A525A"/>
<rect x="414" y="79" width="1" height="1" fill="#5A525A"/>
<rect x="415" y="78" width="2" height="1" fill="#5A525A"/>
<rect x="417" y="77" width="1" height="1" fill="#5A525A"/>
<rect x="166" y="191" width="1" height="1" fill="#5A525A"/>
<rect x="167" y="190" width="1" height="1" fill="#5A525A"/>
<rect x="168" y="189" width="2" height="1" fill="#5A525A"/>
<rect x="170" y="188" width="1" height="1" fill="#5A525A"/>
<rect x="171" y="187" width="1" height="1" fill="#5A525A"/>
<rect x="172" y="186" width="2" height="1" fill="#5A525A"/>
<rect x="174" y="185" width="1" height="1" fill="#5A525A"/>
<rect x="175" y="184" width="1" height="1" fill="#5A525A"/>
<rect x="176" y="183" width="2" height="1" fill="#5A525A"/>
<rect x="178" y="182" width="1" height="1" fill="#5A525A"/>
<rect x="179" y="181" width="1" height="1" fill="#5A525A"/>
<rect x="180" y="180" width="2" height="1" fill="#5A525A"/>
<rect x="182" y="179" width="1" height="1" fill="#5A525A"/>
<rect x="183" y="178" width="1" height="1" fill="#5A525A"/>
<rect x="184" y="177" width="2" height="1" fill="#5A525A"/>
<rect x="186" y="176" width="1" height="1" fill="#5A525A"/>
<rect x="187" y="175" width="1" height="1" fill="#5A525A"/>
<rect x="188" y="174" width="2" height="1" fill="#5A525A"/>
<rect x="190" y="173" width="1" height="1" fill="#5A525A"/>
<rect x="191" y="172" width="1" height="1" fill="#5A525A"/>
<rect x="192" y="171" width="2" height="1" fill="#5A525A"/>
<rect x="194" y="170" width="1" height="1" fill="#5A525A"/>
<rect x="195" y="169" width="1" height="1" fill="#5A525A"/>
<rect x="196" y="168" width="2" height="1" fill="#5A525A"/>
<rect x="198" y="167" width="1" height="1" fill="#5A525A"/>
<rect x="413" y="191" width="1" height="1" fill="#5A525A"/>
<rect x="414" y="190" width="1" height="1" fill="#5A525A"/>
<rect x="415" y="189" width="2" height="1" fill="#5A525A"/>
<rect x="417" y="188" width="1" height="1" fill="#5A525A"/>
<rect x="418" y="187" width="1" height="1" fill="#5A525A"/>
<rect x="419" y="186" width="2" height="1" fill="#5A525A"/>
<rect x="421" y="185" width="1" height="1" fill="#5A525A"/>
<rect x="422" y="184" width="1" height="1" fill="#5A525A"/>
<rect x="423" y="183" width="2" height="1" fill="#5A525A"/>
<rect x="425" y="182" width="1" height="1" fill="#5A525A"/>
<rect x="426" y="181" width="1" height="1" fill="#5A525A"/>
<rect x="427" y="180" width="2" height="1" fill="#5A525A"/>
<rect x="429" y="179" width="1" height="1" fill="#5A525A"/>
<rect x="430" y="178" width="1" height="1" fill="#5A525A"/>
<rect x="431" y="177" width="2" height="1" fill="#5A525A"/>
<rect x="433" y="176" width="1" height="1" fill="#5A525A"/>
<rect x="434" y="175" width="1" height="1" fill="#5A525A"/>
<rect x="435" y="174" width="2" height="1" fill="#5A525A"/>
<rect x="437" y="173" width="1" height="1" fill="#5A525A"/>
<rect x="438" y="172" width="1" height="1" fill="#5A525A"/>
<rect x="439" y="171" width="2" height="1" fill="#5A525A"/>
<rect x="441" y="170" width="1" height="1" fill="#5A525A"/>
<rect x="442" y="169" width="1" height="1" fill="#5A525A"/>
<rect x="443" y="168" width="2" height="1" fill="#5A525A"/>
<rect x="445" y="167" width="1" height="1" fill="#5A525A"/>
<rect x="413" y="191" width="1" height="1" fill="#226666"/>
<rect x="166" y="191" width="1" height="1" fill="#226666"/>
</g>
<defs>
<path id="s40" d="M5 0h1v1h-1zM4 1h1v1h-1zM4 2h1v1h-1zM3 3h1v1h-1zM3 4h1v1h-1zM3 5h1v1h-1zM3 6h1v1h-1zM3 7h1v1h-1zM3 8h1v1h-1zM3 9h1v1h-1zM4 10h1v1h-1zM4 11h1v1h-1zM5 12h1v1h-1z"/>
<path id="s41" d="M1 0h1v1h-1zM2 1h1v1h-1zM2 2h1v1h-1zM3 3h1v1h-1zM3 4h1v1h-1zM3 5h1v1h-1zM3 6h1v1h-1zM3 7h1v1h-1zM3 8h1v1h-1zM3 9h1v1h-1zM2 10h1v1h-1zM2 11h1v1h-1zM1 12h1v1h-1z"/>
<path id="s44" d="M3 10h1v1h-1zM3 11h1v1h-1zM3 12h1v1h-1zM2 13h1v1h-1z"/>
<path id="s46" d="M3 11h1v1h-1z"/>
<path id="s48" d="M2 0h3v1h-3zM1 1h1v1h-1zM5 1h1v1h-1zM0 2h1v1h-1zM6 2h1v1h-1zM0 3h1v1h-1zM6 3h1v1h-1zM0 4h1v1h-1zM6 4h1v1h-1zM0 5h1v1h-1zM6 5h1v1h-1zM0 6h1v1h-1zM6 6h1v1h-1zM0 7h1v1h-1zM6 7h1v1h-1zM0 8h1v1h-1zM6 8h1v1h-1zM1 9h1v1h-1zM5 9h1v1h-1zM2 10h3v1h-3z"/>
<path id="s49" d="M3 0h1v1h-1zM2 1h2v1h-2zM1 2h1v1h-1zM3 2h1v1h-1zM3 3h1v1h-1zM3 4h1v1h-1zM3 5h1v1h-1zM3 6h1v1h-1zM3 7h1v1h-1zM3 8h1v1h-1zM3 9h1v1h-1zM1 10h5v1h-5z"/>
<path id="s50" d="M2 0h3v1h-3zM1 1h1v1h-1zM5 1h1v1h-1zM0 2h1v1h-1zM6 2h1v1h-1zM6 3h1v1h-1zM6 4h1v1h-1zM5 5h1v1h-1zM4 6h1v1h-1zM3 7h1v1h-1zM2 8h1v1h-1zM1 9h1v1h-1zM0 10h7v1h-7z"/>
<path id="s51" d="M0 0h7v1h-7zM5 1h1v1h-1zM4 2h1v1h-1zM3 3h1v1h-1zM2 4h3v1h-3zM5 5h1v1h-1zM6 6h1v1h-1zM6 7h1v1h-1zM6 8h1v1h-1zM0 9h1v1h-1zM5 9h1v1h-1zM1 10h4v1h-4z"/>
<path id="s52" d="M5 0h1v1h-1zM4 1h2v1h-2zM3 2h1v1h-1zM5 2h1v1h-1zM2 3h1v1h-1zM5 3h1v1h-1zM1 4h1v1h-1zM5 4h1v1h-1zM0 5h1v1h-1zM5 5h1v1h-1zM0 6h7v1h-7zM5 7h1v1h-1zM5 8h1v1h-1zM5 9h1v1h-1zM5 10h1v1h-1z"/>
<path id="s53" d="M0 0h7v1h-7zM0 1h1v1h-1zM0 2h1v1h-1zM0 3h1v1h-1zM0 4h5v1h-5zM5 5h1v1h-1zM6 6h1v1h-1zM6 7h1v1h-1zM6 8h1v1h-1zM0 9h1v1h-1zM5 9h1v1h-1zM1 10h4v1h-4z"/>
<path id="s54" d="M2 0h3v1h-3zM1 1h1v1h-1zM0 2h1v1h-1zM0 3h1v1h-1zM2 3h3v1h-3zM0 4h2v1h-2zM5 4h1v1h-1zM0 5h1v1h-1zM6 5h1v1h-1zM0 6h1v1h-1zM6 6h1v1h-1zM0 7h1v1h-1zM6 7h1v1h-1zM0 8h1v1h-1zM6 8h1v1h-1zM1 9h1v1h-1zM5 9h1v1h-1zM2 10h3v1h-3z"/>
<path id="s55" d="M0 0h7v1h-7zM6 1h1v1h-1zM6 2h1v1h-1zM5 3h1v1h-1zM5 4h1v1h-1zM4 5h1v1h-1zM4 6h1v1h-1zM3 7h1v1h-1zM3 8h1v1h-1zM3 9h1v1h-1zM3 10h1v1h-1z"/>
<path id="s56" d="M2 0h3v1h-3zM1 1h1v1h-1zM5 1h1v1h-1zM1 2h1v1h-1zM5 2h1v1h-1zM1 3h1v1h-1zM5 3h1v1h-1zM2 4h3v1h-3zM1 5h1v1h-1zM5 5h1v1h-1zM0 6h1v1h-1zM6 6h1v1h-1zM0 7h1v1h-1zM6 7h1v1h-1zM0 8h1v1h-1zM6 8h1v1h-1zM1 9h1v1h-1zM5 9h1v1h-1zM2 10h3v1h-3z"/>
<path id="s110" d="M1 3h1v1h-1zM3 3h3v1h-3zM1 4h2v1h-2zM6 4h1v1h-1zM1 5h1v1h-1zM6 5h1v1h-1zM1 6h1v1h-1zM6 6h1v1h-1zM1 7h1v1h-1zM6 7h1v1h-1zM1 8h1v1h-1zM6 8h1v1h-1zM1 9h1v1h-1zM6 9h1v1h-1zM1 10h1v1h-1zM6 10h1v1h-1z"/>
</defs>
<g shape-rendering="crispEdges" fill="#5A525A" transform="translate(108 64)"><title>(10.075n,3.7330)</title>
<use href="#s40" x="0"/>
<use href="#s49" x="9"/>
<use href="#s48" x="18"/>
<use href="#s46" x="27"/>
<use href="#s48" x="36"/>
<use href="#s55" x="45"/>
<use href="#s53" x="54"/>
<use href="#s110" x="63"/>
<use href="#s44" x="72"/>
<use href="#s51" x="81"/>
<use href="#s46" x="90"/>
<use href="#s55" x="99"/>
<use href="#s51" x="108"/>
<use href="#s51" x="117"/>
<use href="#s48" x="126"/>
<use href="#s41" x="135"/>
</g>
<g shape-rendering="crispEdges" fill="#5A525A" transform="translate(354 64)"><title>(40.125n,3.7330)</title>
<use href="#s40" x="0"/>
<use href="#s52" x="9"/>
<use href="#s48" x="18"/>
<use href="#s46" x="27"/>
<use href="#s49" x="36"/>
<use href="#s50" x="45"/>
<use href="#s53" x="54"/>
<use href="#s110" x="63"/>
<use href="#s44" x="72"/>
<use href="#s51" x="81"/>
<use href="#s46" x="90"/>
<use href="#s55" x="99"/>
<use href="#s51" x="108"/>
<use href="#s51" x="117"/>
<use href="#s48" x="126"/>
<use href="#s41" x="135"/>
</g>
<g shape-rendering="crispEdges" fill="#5A525A" transform="translate(135 154)"><title>(13.471n,2.5068)</title>
<use href="#s40" x="0"/>
<use href="#s49" x="9"/>
<use href="#s51" x="18"/>
<use href="#s46" x="27"/>
<use href="#s52" x="36"/>
<use href="#s55" x="45"/>
<use href="#s49" x="54"/>
<use href="#s110" x="63"/>
<use href="#s44" x="72"/>
<use href="#s50" x="81"/>
<use href="#s46" x="90"/>
<use href="#s53" x="99"/>
<use href="#s48" x="108"/>
<use href="#s54" x="117"/>
<use href="#s56" x="126"/>
<use href="#s41" x="135"/>
</g>
<g shape-rendering="crispEdges" fill="#5A525A" transform="translate(382 154)"><title>(43.562n,2.5068)</title>
<use href="#s40" x="0"/>
<use href="#s52" x="9"/>
<use href="#s51" x="18"/>
<use href="#s46" x="27"/>
<use href="#s53" x="36"/>
<use href="#s54" x="45"/>
<use href="#s50" x="54"/>
<use href="#s110" x="63"/>
<use href="#s44" x="72"/>
<use href="#s50" x="81"/>
<use href="#s46" x="90"/>
<use href="#s53" x="99"/>
<use href="#s48" x="108"/>
<use href="#s54" x="117"/>
<use href="#s56" x="126"/>
<use href="#s41" x="135"/>
</g>
<g shape-rendering="crispEdges">
<rect x="0" y="464" width="32" height="16" fill="#5A525A"/>
<rect x="417" y="415" width="215" height="1" fill="#5A525A"/>
<rect x="417" y="464" width="215" height="1" fill="#5A525A"/>
<rect x="416" y="416" width="1" height="48" fill="#5A525A"/>
<rect x="632" y="416" width="1" height="48" fill="#5A525A"/>
<rect x="55" y="400" width="1" height="1" fill="#5A525A"/>
<rect x="55" y="416" width="1" height="1" fill="#5A525A"/>
<rect x="59" y="400" width="1" height="1" fill="#5A525A"/>
<rect x="59" y="416" width="1" height="1" fill="#5A525A"/>
<rect x="63" y="400" width="1" height="1" fill="#5A525A"/>
<rect x="63" y="416" width="1" height="1" fill="#5A525A"/>
<rect x="67" y="400" width="1" height="1" fill="#5A525A"/>
<rect x="67" y="416" width="1" height="1" fill="#5A525A"/>
<rect x="54" y="401" width="1" height="1" fill="#5A525A"/>
<rect x="68" y="401" width="1" height="1" fill="#5A525A"/>
<rect x="54" y="405" width="1" height="1" fill="#5A525A"/>
<rect x="68" y="405" width="1" height="1" fill="#5A525A"/>
<rect x="54" y="409" width="1" height="1" fill="#5A525A"/>
<rect x="68" y="409" width="1" height="1" fill="#5A525A"/>
<rect x="54" y="413" width="1" height="1" fill="#5A525A"/>
<rect x="68" y="413" width="1" height="1" fill="#5A525A"/>
<rect x="120" y="400" width="1" height="1" fill="#5A525A"/>
<rect x="120" y="416" width="1" height="1" fill="#5A525A"/>
<rect x="122" y="400" width="1" height="1" fill="#5A525A"/>
<rect x="122" y="416" width="1" height="1" fill="#5A525A"/>
<rect x="124" y="400" width="1" height="1" fill="#5A525A"/>
<rect x="124" y="416" width="1" height="1" fill="#5A525A"/>
<rect x="126" y="400" width="1" height="1" fill="#5A525A"/>
<rect x="126" y="416" width="1" height="1" fill="#5A525A"/>
<rect x="128" y="400" width="1" height="1" fill="#5A525A"/>
<rect x="128" y="416" width="1" height="1" fill="#5A525A"/>
<rect x="130" y="400" width="1" height="1" fill="#5A525A"/>
<rect x="130" y="416" width="1" height="1" fill="#5A525A"/>
<rect x="118" y="402" width="1" height="1" fill="#5A525A"/>
<rect x="132" y="402" width="1" height="1" fill="#5A525A"/>
<rect x="118" y="404" width="1" height="1" fill="#5A525A"/>
<rect x="132" y="404" width="1" height="1" fill="#5A525A"/>
<rect x="118" y="406" width="1" height="1" fill="#5A525A"/>
<rect x="132" y="406" width="1" height="1" fill="#5A525A"/>
<rect x="118" y="408" width="1" height="1" fill="#5A525A"/>
<rect x="132" y="408" width="1" height="1" fill="#5A525A"/>
<rect x="118" y="410" width="1" height="1" fill="#5A525A"/>
<rect x="132" y="410" width="1" height="1" fill="#5A525A"/>
<rect x="118" y="412" width="1" height="1" fill="#5A525A"/>
<rect x="132" y="412" width="1" height="1" fill="#5A525A"/>
<rect x="118" y="414" width="1" height="1" fill="#5A525A"/>
<rect x="132" y="414" width="1" height="1" fill="#5A525A"/>
<rect x="58.5" y="405.5" width="6" height="6" fill="none" stroke="#AA00AA"/>
<rect x="125" y="405" width="1" height="1" fill="#06B0B0"/>
<rect x="124" y="406" width="1" height="1" fill="#06B0B0"/>
<rect x="126" y="406" width="1" height="1" fill="#06B0B0"/>
<rect x="123" y="407" width="1" height="1" fill="#06B0B0"/>
<rect x="127" y="407" width="1" height="1" fill="#06B0B0"/>
<rect x="122" y="408" width="1" height="1" fill="#06B0B0"/>
<rect x="128" y="408" width="1" height="1" fill="#06B0B0"/>
<rect x="123" y="409" width="1" height="1" fill="#06B0B0"/>
<rect x="127" y="409" width="1" height="1" fill="#06B0B0"/>
<rect x="124" y="410" width="1" height="1" fill="#06B0B0"/>
<rect x="126" y="410" width="1" height="1" fill="#06B0B0"/>
<rect x="125" y="411" width="1" height="1" fill="#06B0B0"/>
<rect x="181" y="404" width="1" height="1" fill="#AAFF00"/>
<rect x="180" y="405" width="1" height="1" fill="#AAFF00"/>
<rect x="182" y="405" width="1" height="1" fill="#AAFF00"/>
<rect x="180" y="406" width="1" height="1" fill="#AAFF00"/>
<rect x="182" y="406" width="1" height="1" fill="#AAFF00"/>
<rect x="179" y="407" width="1" height="1" fill="#AAFF00"/>
<rect x="183" y="407" width="1" height="1" fill="#AAFF00"/>
<rect x="179" y="408" width="1" height="1" fill="#AAFF00"/>
<rect x="183" y="408" width="1" height="1" fill="#AAFF00"/>
<rect x="178" y="409" width="1" height="1" fill="#AAFF00"/>
<rect x="184" y="409" width="1" height="1" fill="#AAFF00"/>
<rect x="178" y="410" width="1" height="1" fill="#AAFF00"/>
<rect x="184" y="410" width="1" height="1" fill="#AAFF00"/>
<rect x="177" y="411" width="9" height="1" fill="#AAFF00"/>
<rect x="632" y="478" width="1" height="2" fill="#000"/>
<rect x="633" y="479" width="1" height="1" fill="#000"/>
</g>
<g shape-rendering="crispEdges">
<g fill="#5A525A" transform="translate(24 0)"><title>5.0</title>
<use href="#c53" x="0"/>
<use href="#c46" x="8"/>
<use href="#c48" x="16"/>
</g>
<g fill="#5A525A" transform="translate(40 368)"><title>0</title>
<use href="#c48" x="0"/>
</g>
<g fill="#5A525A" transform="translate(48 384)"><title>0s</title>
<use href="#c48" x="0"/>
<use href="#c115" x="8"/>
</g>
<g fill="#5A525A" transform="translate(120 384)"><title>10ns</title>
<use href="#c49" x="0"/>
<use href="#c48" x="8"/>
<use href="#c110" x="16"/>
<use href="#c115" x="24"/>
</g>
<g fill="#5A525A" transform="translate(208 384)"><title>20ns</title>
<use href="#c50" x="0"/>
<use href="#c48" x="8"/>
<use href="#c110" x="16"/>
<use href="#c115" x="24"/>
</g>
<g fill="#5A525A" transform="translate(288 384)"><title>30ns</title>
<use href="#c51" x="0"/>
<use href="#c48" x="8"/>
<use href="#c110" x="16"/>
<use href="#c115" x="24"/>
</g>
<g fill="#5A525A" transform="translate(368 384)"><title>40ns</title>
<use href="#c52" x="0"/>
<use href="#c48" x="8"/>
<use href="#c110" x="16"/>
<use href="#c115" x="24"/>
</g>
<g fill="#5A525A" transform="translate(448 384)"><title>50ns</title>
<use href="#c53" x="0"/>
<use href="#c48" x="8"/>
<use href="#c110" x="16"/>
<use href="#c115" x="24"/>
</g>
<g fill="#5A525A" transform="translate(536 384)"><title>60ns</title>
<use href="#c54" x="0"/>
<use href="#c48" x="8"/>
<use href="#c110" x="16"/>
<use href="#c115" x="24"/>
</g>
<g fill="#5A525A" transform="translate(600 384)"><title>70ns</title>
<use href="#c55" x="0"/>
<use href="#c48" x="8"/>
<use href="#c110" x="16"/>
<use href="#c115" x="24"/>
</g>
<g fill="#5A525A" transform="translate(72 400)"><title>V(10)</title>
<use href="#c86" x="0"/>
<use href="#c40" x="8"/>
<use href="#c49" x="16"/>
<use href="#c48" x="24"/>
<use href="#c41" x="32"/>
</g>
<g fill="#5A525A" transform="translate(136 400)"><title>V(2)</title>
<use href="#c86" x="0"/>
<use href="#c40" x="8"/>
<use href="#c50" x="16"/>
<use href="#c41" x="24"/>
</g>
<g fill="#5A525A" transform="translate(192 400)"><title>2.5</title>
<use href="#c50" x="0"/>
<use href="#c46" x="8"/>
<use href="#c53" x="16"/>
</g>
<g fill="#5A525A" transform="translate(328 416)"><title>Time</title>
<use href="#c84" x="0"/>
<use href="#c105" x="8"/>
<use href="#c109" x="16"/>
<use href="#c101" x="24"/>
</g>
<g fill="#5A525A" transform="translate(424 416)"><title>C1 =</title>
<use href="#c67" x="0"/>
<use href="#c49" x="8"/>
<use href="#c61" x="24"/>
</g>
<g fill="#5A525A" transform="translate(480 416)"><title>10.075n,</title>
<use href="#c49" x="0"/>
<use href="#c48" x="8"/>
<use href="#c46" x="16"/>
<use href="#c48" x="24"/>
<use href="#c55" x="32"/>
<use href="#c53" x="40"/>
<use href="#c110" x="48"/>
<use href="#c44" x="56"/>
</g>
<g fill="#5A525A" transform="translate(576 416)"><title>3.7330</title>
<use href="#c51" x="0"/>
<use href="#c46" x="8"/>
<use href="#c55" x="16"/>
<use href="#c51" x="24"/>
<use href="#c51" x="32"/>
<use href="#c48" x="40"/>
</g>
<g fill="#5A525A" transform="translate(424 432)"><title>C2 =</title>
<use href="#c67" x="0"/>
<use href="#c50" x="8"/>
<use href="#c61" x="24"/>
</g>
<g fill="#5A525A" transform="translate(496 432)"><title>0.000,</title>
<use href="#c48" x="0"/>
<use href="#c46" x="8"/>
<use href="#c48" x="16"/>
<use href="#c48" x="24"/>
<use href="#c48" x="32"/>
<use href="#c44" x="40"/>
</g>
<g fill="#5A525A" transform="translate(576 432)"><title>4.3490</title>
<use href="#c52" x="0"/>
<use href="#c46" x="8"/>
<use href="#c51" x="16"/>
<use href="#c52" x="24"/>
<use href="#c57" x="32"/>
<use href="#c48" x="40"/>
</g>
<g fill="#5A525A" transform="translate(424 448)"><title>dif=</title>
<use href="#c100" x="0"/>
<use href="#c105" x="8"/>
<use href="#c102" x="16"/>
<use href="#c61" x="24"/>
</g>
<g fill="#5A525A" transform="translate(480 448)"><title>10.075n,</title>
<use href="#c49" x="0"/>
<use href="#c48" x="8"/>
<use href="#c46" x="16"/>
<use href="#c48" x="24"/>
<use href="#c55" x="32"/>
<use href="#c53" x="40"/>
<use href="#c110" x="48"/>
<use href="#c44" x="56"/>
</g>
<g fill="#5A525A" transform="translate(552 448)"><title>-615.993m</title>
<use href="#c45" x="0"/>
<use href="#c54" x="8"/>
<use href="#c49" x="16"/>
<use href="#c53" x="24"/>
<use href="#c46" x="32"/>
<use href="#c57" x="40"/>
<use href="#c57" x="48"/>
<use href="#c51" x="56"/>
<use href="#c109" x="64"/>
</g>
<g fill="#FFFFFF" transform="translate(0 464)"><title>Exit</title>
<use href="#c69" x="0"/>
<use href="#c120" x="8"/>
<use href="#c105" x="16"/>
<use href="#c116" x="24"/>
</g>
<g fill="#5A525A" transform="translate(48 464)"><title>Hard_copy</title>
<use href="#c72" x="0"/>
<use href="#c97" x="8"/>
<use href="#c114" x="16"/>
<use href="#c100" x="24"/>
<use href="#c95" x="32"/>
<use href="#c99" x="40"/>
<use href="#c111" x="48"/>
<use href="#c112" x="56"/>
<use href="#c121" x="64"/>
</g>
<g fill="#5A525A" transform="translate(136 464)"><title>Peak</title>
<use href="#c80" x="0"/>
<use href="#c101" x="8"/>
<use href="#c97" x="16"/>
<use href="#c107" x="24"/>
</g>
<g fill="#5A525A" transform="translate(184 464)"><title>Trough</title>
<use href="#c84" x="0"/>
<use href="#c114" x="8"/>
<use href="#c111" x="16"/>
<use href="#c117" x="24"/>
<use href="#c103" x="32"/>
<use href="#c104" x="40"/>
</g>
<g fill="#5A525A" transform="translate(248 464)"><title>slOpe</title>
<use href="#c115" x="0"/>
<use href="#c108" x="8"/>
<use href="#c79" x="16"/>
<use href="#c112" x="24"/>
<use href="#c101" x="32"/>
</g>
<g fill="#5A525A" transform="translate(304 464)"><title>Min</title>
<use href="#c77" x="0"/>
<use href="#c105" x="8"/>
<use href="#c110" x="16"/>
</g>
<g fill="#5A525A" transform="translate(344 464)"><title>maX</title>
<use href="#c109" x="0"/>
<use href="#c97" x="8"/>
<use href="#c88" x="16"/>
</g>
<g fill="#5A525A" transform="translate(384 464)"><title>Search_commands</title>
<use href="#c83" x="0"/>
<use href="#c101" x="8"/>
<use href="#c97" x="16"/>
<use href="#c114" x="24"/>
<use href="#c99" x="32"/>
<use href="#c104" x="40"/>
<use href="#c95" x="48"/>
<use href="#c99" x="56"/>
<use href="#c111" x="64"/>
<use href="#c109" x="72"/>
<use href="#c109" x="80"/>
<use href="#c97" x="88"/>
<use href="#c110" x="96"/>
<use href="#c100" x="104"/>
<use href="#c115" x="112"/>
</g>
<g fill="#5A525A" transform="translate(520 464)"><title>Label_point</title>
<use href="#c76" x="0"/>
<use href="#c97" x="8"/>
<use href="#c98" x="16"/>
<use href="#c101" x="24"/>
<use href="#c108" x="32"/>
<use href="#c95" x="40"/>
<use href="#c112" x="48"/>
<use href="#c111" x="56"/>
<use href="#c105" x="64"/>
<use href="#c110" x="72"/>
<use href="#c116" x="80"/>
</g>
</g>
</svg>
</body></html>
